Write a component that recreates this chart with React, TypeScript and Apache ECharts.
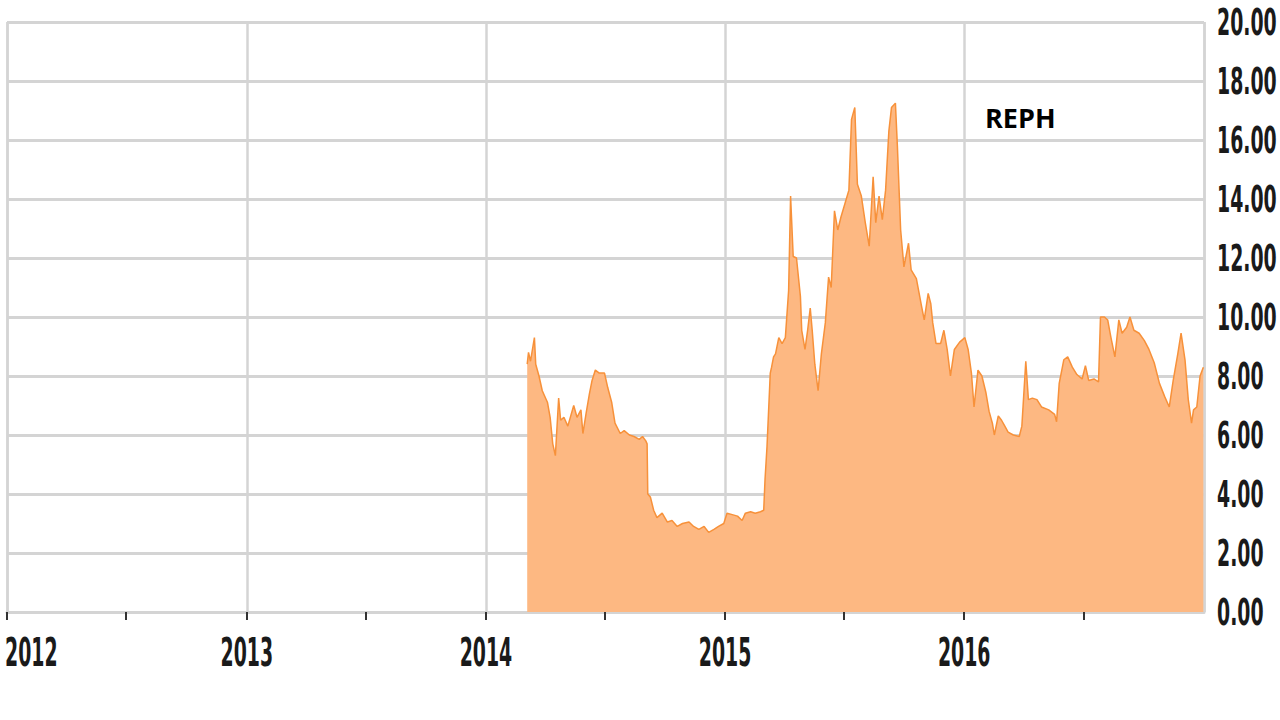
import { useEffect, useRef } from 'react';
import * as echarts from 'echarts';

const seriesName = 'REPH';

const dates = [
  '2014-03-05', '2014-03-07', '2014-03-10', '2014-03-16', '2014-03-18', '2014-03-23', '2014-03-28',
  '2014-04-05', '2014-04-09', '2014-04-13', '2014-04-17', '2014-04-22', '2014-04-25', '2014-04-30',
  '2014-05-06', '2014-05-15', '2014-05-20', '2014-05-26', '2014-05-29', '2014-06-03', '2014-06-08',
  '2014-06-12', '2014-06-17', '2014-06-23', '2014-07-01', '2014-07-06', '2014-07-12', '2014-07-17',
  '2014-07-25', '2014-07-31', '2014-08-08', '2014-08-15', '2014-08-23', '2014-08-28', '2014-09-02',
  '2014-09-04', '2014-09-05', '2014-09-09', '2014-09-14', '2014-09-19', '2014-09-27', '2014-10-05',
  '2014-10-12', '2014-10-20', '2014-10-28', '2014-11-07', '2014-11-14', '2014-11-22', '2014-11-30',
  '2014-12-07', '2014-12-15', '2014-12-22', '2014-12-30', '2015-01-04', '2015-01-12', '2015-01-20',
  '2015-01-27', '2015-02-01', '2015-02-09', '2015-02-16', '2015-02-24', '2015-03-01', '2015-03-03',
  '2015-03-06', '2015-03-11', '2015-03-13', '2015-03-16', '2015-03-19', '2015-03-24', '2015-03-29',
  '2015-04-03', '2015-04-08', '2015-04-11', '2015-04-15', '2015-04-20', '2015-04-26', '2015-04-28',
  '2015-05-03', '2015-05-07', '2015-05-11', '2015-05-14', '2015-05-18', '2015-05-23', '2015-05-28',
  '2015-06-03', '2015-06-08', '2015-06-12', '2015-06-17', '2015-06-22', '2015-06-27', '2015-07-03',
  '2015-07-09', '2015-07-13', '2015-07-18', '2015-07-22', '2015-07-28', '2015-08-03', '2015-08-09',
  '2015-08-15', '2015-08-19', '2015-08-24', '2015-08-29', '2015-09-03', '2015-09-08', '2015-09-12',
  '2015-09-18', '2015-09-21', '2015-09-26', '2015-10-01', '2015-10-08', '2015-10-12', '2015-10-20',
  '2015-10-28', '2015-11-01', '2015-11-07', '2015-11-11', '2015-11-14', '2015-11-19', '2015-11-26',
  '2015-12-01', '2015-12-06', '2015-12-11', '2015-12-17', '2015-12-25', '2016-01-02', '2016-01-07',
  '2016-01-12', '2016-01-16', '2016-01-22', '2016-01-28', '2016-02-03', '2016-02-08', '2016-02-13',
  '2016-02-16', '2016-02-22', '2016-02-27', '2016-03-03', '2016-03-08', '2016-03-16', '2016-03-25',
  '2016-03-29', '2016-04-04', '2016-04-08', '2016-04-14', '2016-04-21', '2016-04-28', '2016-05-09',
  '2016-05-18', '2016-05-21', '2016-05-25', '2016-06-01', '2016-06-07', '2016-06-14', '2016-06-21',
  '2016-06-29', '2016-07-04', '2016-07-09', '2016-07-17', '2016-07-24', '2016-07-27', '2016-08-02',
  '2016-08-07', '2016-08-12', '2016-08-18', '2016-08-24', '2016-08-29', '2016-09-05', '2016-09-10',
  '2016-09-16', '2016-09-24', '2016-10-02', '2016-10-09', '2016-10-17', '2016-10-25', '2016-11-02',
  '2016-11-09', '2016-11-15', '2016-11-22', '2016-11-27', '2016-12-03', '2016-12-08', '2016-12-13',
  '2016-12-16', '2016-12-21', '2016-12-26', '2016-12-31',
];

const prices = [
  8.4, 8.8, 8.5, 9.3, 8.4, 8.0, 7.5,
  7.1, 6.6, 5.7, 5.3, 7.25, 6.5, 6.6,
  6.3, 7.0, 6.6, 6.85, 6.05, 6.75, 7.4,
  7.85, 8.2, 8.1, 8.1, 7.6, 7.1, 6.4,
  6.05, 6.15, 6.0, 5.95, 5.85, 5.95, 5.8,
  5.7, 4.0, 3.9, 3.45, 3.2, 3.35, 3.05,
  3.1, 2.9, 3.0, 3.05, 2.9, 2.8, 2.9,
  2.7, 2.8, 2.9, 3.0, 3.35, 3.3, 3.25,
  3.1, 3.35, 3.4, 3.35, 3.4, 3.45, 4.5,
  5.6, 8.1, 8.3, 8.65, 8.75, 9.3, 9.1,
  9.3, 10.9, 14.1, 12.05, 12.0, 10.7, 9.55,
  8.9, 9.55, 10.3, 9.55, 8.4, 7.5, 8.75,
  9.8, 11.35, 11.0, 13.6, 12.95, 13.4, 13.85,
  14.3, 16.7, 17.1, 14.5, 14.1, 13.2, 12.4,
  14.75, 13.2, 14.1, 13.3, 14.3, 16.3, 17.1,
  17.25, 15.8, 12.95, 11.7, 12.5, 11.6, 11.3,
  10.35, 9.9, 10.8, 10.45, 9.8, 9.1, 9.1,
  9.55, 8.9, 8.0, 8.9, 9.15, 9.3, 8.9,
  8.1, 6.95, 8.2, 8.0, 7.45, 6.8, 6.4,
  6.0, 6.65, 6.5, 6.3, 6.1, 6.0, 5.95,
  6.3, 8.5, 7.2, 7.25, 7.2, 6.95, 6.85,
  6.7, 6.45, 7.75, 8.55, 8.65, 8.3, 8.05,
  7.9, 8.35, 7.85, 7.9, 7.8, 10.0, 10.0,
  9.9, 9.3, 8.65, 9.9, 9.45, 9.65, 10.0,
  9.55, 9.45, 9.2, 8.9, 8.45, 7.75, 7.3,
  6.95, 7.85, 8.75, 9.45, 8.55, 7.2, 6.4,
  6.85, 6.95, 8.0, 8.3,
];

const axisStart = '2012-01-01';
const axisEnd = '2017-01-01';
const yearGridDates = ['2012-01-01', '2013-01-01', '2014-01-01', '2015-01-01', '2016-01-01', '2017-01-01'];
const halfYearTickDates = [
  '2012-01-01', '2012-07-01', '2013-01-01', '2013-07-01', '2014-01-01', '2014-07-01',
  '2015-01-01', '2015-07-01', '2016-01-01', '2016-07-01',
];
const yearLabels = ['2012', '2013', '2014', '2015', '2016'];
const yearLabelDates = ['2012-01-01', '2013-01-01', '2014-01-01', '2015-01-01', '2016-01-01'];
const yTickValues = [0, 2, 4, 6, 8, 10, 12, 14, 16, 18, 20];

const ts = (s: string) => {
  const [y, m, d] = s.split('-').map(Number);
  return new Date(y, m - 1, d).getTime();
};

const LABEL_FONT = '"DejaVu Sans Condensed", "DejaVu Sans", sans-serif';
const GRID_COLOR = '#d4d4d4';

export default function App() {
  const ref = useRef<HTMLDivElement>(null);

  useEffect(() => {
    const chart = echarts.init(ref.current!, null, { renderer: 'svg' });
    const data = dates.map((d, i) => [ts(d), prices[i]]);

    chart.setOption({
      animation: false,
      backgroundColor: '#ffffff',
      grid: { left: 7, right: 76, top: 22, bottom: 108, containLabel: false, outerBoundsMode: 'none' },
      xAxis: [
        {
          type: 'time',
          min: ts(axisStart),
          max: ts(axisEnd),
          position: 'bottom',
          axisLine: { show: true, lineStyle: { color: GRID_COLOR, width: 3 } },
          axisTick: {
            show: true,
            customValues: halfYearTickDates.map(ts),
            length: 8,
            lineStyle: { color: '#333333', width: 2 },
          },
          axisLabel: { show: false },
          splitLine: { show: false },
        },
        {
          type: 'time',
          min: ts(axisStart),
          max: ts(axisEnd),
          position: 'bottom',
          axisLine: { show: false },
          axisTick: { show: false, customValues: yearGridDates.map(ts) },
          axisLabel: { show: false },
          splitLine: { show: true, lineStyle: { color: GRID_COLOR, width: 2.5 } },
        },
      ],
      yAxis: {
        type: 'value',
        position: 'right',
        min: 0,
        max: 20,
        interval: 2,
        axisLine: { show: false },
        axisTick: { show: false },
        axisLabel: { show: false },
        splitLine: { show: true, lineStyle: { color: GRID_COLOR, width: 3 } },
      },
      series: [
        {
          name: seriesName,
          type: 'line',
          xAxisIndex: 0,
          data,
          symbol: 'none',
          lineStyle: { color: '#f7913a', width: 1.5 },
          areaStyle: { color: '#fdb882', opacity: 1 },
          z: 3,
        },
      ],
    });

    const graphics: any[] = [];
    yearLabels.forEach((lab, i) => {
      const px = chart.convertToPixel({ xAxisIndex: 0 }, ts(yearLabelDates[i])) as number;
      graphics.push({
        type: 'text',
        x: i === 0 ? 5 : px,
        y: 652,
        scaleY: 1.85,
        style: {
          text: lab,
          align: i === 0 ? 'left' : 'center',
          verticalAlign: 'middle',
          fontSize: 21,
          fontWeight: 'bold',
          fontFamily: LABEL_FONT,
          fill: '#1a1a1a',
        },
      });
    });
    yTickValues.forEach((v) => {
      const py = chart.convertToPixel({ yAxisIndex: 0 }, v) as number;
      graphics.push({
        type: 'text',
        x: 1217,
        y: py,
        scaleY: 1.8,
        style: {
          text: v.toFixed(2),
          align: 'left',
          verticalAlign: 'middle',
          fontSize: 21,
          fontWeight: 'bold',
          fontFamily: LABEL_FONT,
          fill: '#1a1a1a',
        },
      });
    });
    graphics.push({
      type: 'text',
      x: 985,
      y: 117,
      style: {
        text: seriesName,
        align: 'left',
        verticalAlign: 'middle',
        fontSize: 27,
        fontWeight: 'bold',
        fontFamily: '"Open Sans", "Noto Sans", sans-serif',
        fill: '#000000',
      },
    });
    chart.setOption({ graphic: graphics });

    return () => chart.dispose();
  }, []);

  return (
    <div
      ref={ref}
      style={{ position: 'fixed', left: 0, top: 0, width: 1280, height: 720, background: '#ffffff' }}
    />
  );
}
